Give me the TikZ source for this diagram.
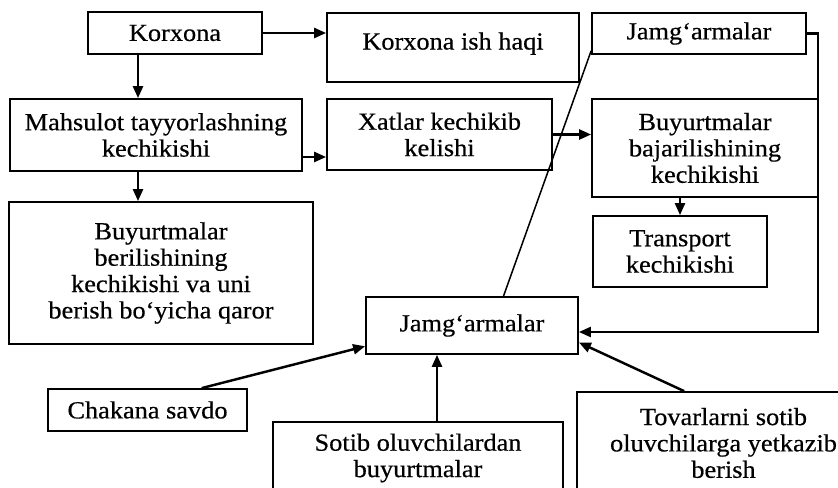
\documentclass[tikz,border=0pt]{standalone}
\usepackage{fontspec}
\setmainfont{Liberation Serif}[FakeStretch=1.07,FakeBold=0.5]
\usetikzlibrary{arrows.meta,calc}

\begin{document}
\begin{tikzpicture}[x=0.03cm,y=-0.03cm,
	box/.style={draw,line width=1.5pt,rectangle,align=center,inner sep=0pt,
		font=\fontsize{21}{22.5}\selectfont},
	arr/.style={line width=2.1pt,-{Triangle[length=0.36cm,width=0.3cm]}}]
				%%%%% START %%%%%
				\useasboundingbox (0,0) rectangle (838,488);

				% top row
				\node[box,minimum width=5.22cm,minimum height=1.26cm] (korxona) at (175,33) {Korxona};
				\node[box,minimum width=7.56cm,minimum height=2.07cm] (ishhaqi) at (453,47.5) {\raisebox{0.39cm}{Korxona ish haqi}};
				\node[box,minimum width=6.42cm,minimum height=1.23cm] (jamtop) at (699,33.5) {Jamg‘armalar};

				% second row
				\node[box,minimum width=8.76cm,minimum height=2.16cm] (mahsulot) at (156,135) {Mahsulot tayyorlashning\\kechikishi};
				\node[box,minimum width=6.75cm,minimum height=2.13cm] (xatlar) at (439.5,134.5) {Xatlar kechikib\\kelishi};
				\node[box,minimum width=6.78cm,minimum height=2.94cm] (bajar) at (705,148) {Buyurtmalar\\bajarilishining\\kechikishi};

				\node[box,minimum width=5.22cm,minimum height=2.13cm] (transport) at (680,251.5) {Transport\\kechikishi};
				\node[box,minimum width=9.12cm,minimum height=4.26cm] (beril) at (161,273) {Buyurtmalar\\berilishining\\kechikishi va uni\\berish bo‘yicha qaror};

				\node[box,minimum width=6.36cm,minimum height=1.71cm] (jammid) at (472,325.5) {Jamg‘armalar};

				% bottom row
				\node[box,minimum width=5.97cm,minimum height=1.26cm] (chakana) at (147.5,410) {Chakana savdo};
				\node[box,minimum width=8.7cm,minimum height=2.16cm] (sotib) at (418,458) {Sotib oluvchilardan\\buyurtmalar};
				\node[box,minimum width=8.79cm,minimum height=3.06cm] (tovar) at (723.5,443) {Tovarlarni sotib\\oluvchilarga yetkazib\\berish};

				\coordinate (spine) at (138,0);
				\coordinate (turn) at (818,332);

				\draw[arr] (korxona.east) -- (korxona.east -| ishhaqi.west);
				\draw[arr] (spine |- korxona.south) -- (spine |- mahsulot.north);
				\draw[arr] (spine |- mahsulot.south) -- (spine |- beril.north);
				\draw[arr] ([yshift=-0.66cm]mahsulot.east) -- ([yshift=-0.66cm]mahsulot.east -| xatlar.west);
				\draw[arr] (xatlar.east) -- (xatlar.east -| bajar.west);
				\draw[arr] (transport.north |- bajar.south) -- (transport.north);

				% back to the lower Jamg'armalar
				\draw[line width=1.3pt] ([yshift=0.12cm]jamtop.south west) -- (jammid.43);
				\draw[arr] (jamtop.east) -| (turn) -- (turn -| jammid.east);

				\draw[arr] (chakana.22) -- (jammid.191);
				\draw[arr] ([xshift=0.57cm]sotib.north) -- ([xshift=0.57cm]sotib.north |- jammid.south);
				\draw[arr] ([xshift=3.24cm]tovar.north west) -- (jammid.351);
				%%%%% START %%%%%
			\end{tikzpicture}
\end{document}
